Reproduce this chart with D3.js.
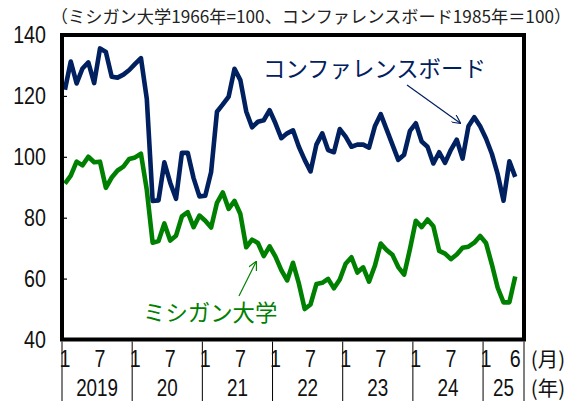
<!DOCTYPE html>
<html>
<head>
<meta charset="utf-8">
<script src="https://cdn.jsdelivr.net/npm/d3@7"></script>
<style>
  body { margin: 0; background: #fff; }
  svg { display: block; }
  text { font-family: "Liberation Sans Narrow", "Liberation Sans", "Noto Sans CJK JP", sans-serif; }
  .jp { font-family: "Noto Sans CJK JP", sans-serif; }
</style>
</head>
<body>
<svg class="chart"></svg>
<script>
// monthly, Jan 2019 - Jun 2025
var years = ["2019", "20", "21", "22", "23", "24", "25"];
var monthTicks = [1, 7];

var confBoard = [
  122, 131.3, 124.1, 129, 131, 124.2, 135.6, 134.4, 126.3, 126, 127, 128.5,
  130.5, 132.4, 119, 85.5, 85.7, 98.2, 91.5, 86.2, 101.3, 101.3, 93, 87,
  87.2, 95, 114.8, 117.2, 119.8, 128.9, 125.2, 114.9, 109.7, 111.5, 112, 115.3,
  111, 106.1, 107.7, 108.7, 103.3, 99, 95.2, 104, 107.7, 102.2, 101.5, 109.1,
  106.6, 103.3, 104, 104, 103, 110, 114, 109, 104, 99, 100.7, 108.5,
  111, 105, 103.3, 97.8, 101.5, 98, 102.3, 105.6, 99.4, 110, 113, 110,
  106, 101, 94.3, 85.6, 98.5, 93.4
];

var michigan = [
  91.2, 93.8, 98.4, 97.2, 100, 98.2, 98.4, 89.8, 93.2, 95.5, 96.8, 99.3,
  99.8, 101, 89.1, 71.8, 72.3, 78.1, 72.5, 74.1, 80.4, 81.8, 76.9, 80.7,
  79, 76.8, 84.9, 88.3, 82.9, 85.5, 81.2, 70.3, 72.8, 71.7, 67.4, 70.6,
  67.2, 62.8, 59.4, 65.2, 58.4, 50, 51.5, 58.2, 58.6, 59.9, 56.8, 59.7,
  64.9, 67, 62, 63.7, 59, 64.2, 71.5, 69.4, 67.8, 63.8, 61.3, 69.7,
  79, 76.9, 79.4, 77.2, 69.1, 68.2, 66.4, 67.9, 70.1, 70.5, 71.8, 74,
  71.7, 64.7, 57, 52.2, 52.2, 60.7
];

var yTicks = [40, 60, 80, 100, 120, 140];

var drawChart = function()
{
  var width = 572, height = 401;
  var pL = 62, pR = 524, pT = 35, pB = 339.5;
  var navy = "#002060", green = "#008000";
  var squeeze = 0.82;

  var svg = d3.select(".chart")
    .attr("width", width)
    .attr("height", height);

  var x = d3.scaleLinear().domain([0, 79]).range([pL, pR]);
  var y = d3.scaleLinear().domain([40, 140]).range([pB, pT]);

  // narrow numbers, squeezed horizontally by the parent group
  var numText = function(sel, anchor, size) {
    return sel.append("text")
      .attr("text-anchor", anchor)
      .attr("dominant-baseline", "central")
      .attr("font-size", size)
      .attr("fill", "#111");
  };

  // title
  svg.append("text")
    .attr("class", "jp")
    .attr("x", 311)
    .attr("y", 15)
    .attr("text-anchor", "middle")
    .attr("dominant-baseline", "central")
    .attr("font-size", "17.2px")
    .attr("fill", "#222")
    .text("（ミシガン大学1966年=100、コンファレンスボード1985年＝100）");

  // y axis
  var yAxis = d3.axisLeft(y)
    .tickValues(yTicks)
    .tickSize(-5)
    .tickPadding(0)
    .tickFormat(function(d) { return ""; });

  var yg = svg.append("g")
    .attr("transform", "translate(" + pL + ",0)")
    .call(yAxis);
  yg.select(".domain").remove();
  yg.selectAll("line").attr("stroke", "#000").attr("stroke-width", 1.2);

  svg.selectAll(".ylab")
    .data(yTicks)
    .enter()
    .append("g")
    .attr("transform", function(d) { return "translate(46," + y(d) + ") scale(" + squeeze + ",1)"; })
    .call(function(g) {
      numText(g, "end", "24px").text(function(d) { return d; });
    });

  // lines
  var line = d3.line()
    .x(function(d, i) { return x(i + 0.5); })
    .y(function(d) { return y(d); });

  svg.append("path")
    .datum(confBoard)
    .attr("d", line)
    .attr("fill", "none")
    .attr("stroke", navy)
    .attr("stroke-width", 4.6)
    .attr("stroke-linejoin", "round");

  svg.append("path")
    .datum(michigan)
    .attr("d", line)
    .attr("fill", "none")
    .attr("stroke", green)
    .attr("stroke-width", 4.6)
    .attr("stroke-linejoin", "round");

  // frame
  svg.append("rect")
    .attr("x", pL)
    .attr("y", pT)
    .attr("width", pR - pL)
    .attr("height", pB - pT)
    .attr("fill", "none")
    .attr("stroke", "#000")
    .attr("stroke-width", 4);

  // x axis: year separators, month and year labels
  var yearStarts = years.map(function(d, i) { return i * 12; }).concat([79]);

  svg.selectAll(".sep")
    .data(yearStarts)
    .enter()
    .append("line")
    .attr("x1", function(d) { return x(d); })
    .attr("x2", function(d) { return x(d); })
    .attr("y1", pB + 2)
    .attr("y2", height)
    .attr("stroke", "#000")
    .attr("stroke-width", 1);

  var monthLabels = [];
  years.forEach(function(yr, i) {
    monthTicks.forEach(function(m) {
      if (i * 12 + m - 1 < confBoard.length) monthLabels.push({ idx: i * 12 + m - 1, m: m });
    });
  });
  monthLabels.push({ idx: 77, m: 6 });

  svg.selectAll(".mon")
    .data(monthLabels)
    .enter()
    .append("g")
    .attr("transform", function(d) { return "translate(" + x(d.idx + 0.5) + ",359) scale(" + squeeze + ",1)"; })
    .call(function(g) {
      numText(g, "middle", "24px").text(function(d) { return d.m; });
    });

  svg.selectAll(".yr")
    .data(years)
    .enter()
    .append("g")
    .attr("transform", function(d, i) {
      var end = Math.min((i + 1) * 12, 79);
      return "translate(" + (x(i * 12) + x(end)) / 2 + ",388) scale(" + squeeze + ",1)";
    })
    .call(function(g) {
      numText(g, "middle", "23px").text(function(d) { return d; });
    });

  svg.append("text")
    .attr("class", "jp")
    .attr("x", 548)
    .attr("y", 358)
    .attr("text-anchor", "middle")
    .attr("dominant-baseline", "central")
    .attr("font-size", "20.5px")
    .attr("fill", "#111")
    .text("(月)");

  svg.append("text")
    .attr("class", "jp")
    .attr("x", 548)
    .attr("y", 386.5)
    .attr("text-anchor", "middle")
    .attr("dominant-baseline", "central")
    .attr("font-size", "20.5px")
    .attr("fill", "#111")
    .text("(年)");

  // annotations
  svg.append("defs").selectAll("marker")
    .data([["arrNavy", navy], ["arrGreen", green]])
    .enter()
    .append("marker")
    .attr("id", function(d) { return d[0]; })
    .attr("viewBox", "0 0 10 10")
    .attr("refX", 9)
    .attr("refY", 5)
    .attr("markerWidth", 9)
    .attr("markerHeight", 9)
    .attr("markerUnits", "userSpaceOnUse")
    .attr("orient", "auto")
    .append("path")
    .attr("d", "M0,0 L10,5 L0,10")
    .attr("fill", "none")
    .attr("stroke", function(d) { return d[1]; })
    .attr("stroke-width", 1.3);

  svg.append("text")
    .attr("class", "jp")
    .attr("x", 263)
    .attr("y", 67)
    .attr("dominant-baseline", "central")
    .attr("font-size", "22.4px")
    .attr("fill", navy)
    .text("コンファレンスボード");

  svg.append("line")
    .attr("x1", 407).attr("y1", 85)
    .attr("x2", 460).attr("y2", 123)
    .attr("stroke", navy)
    .attr("stroke-width", 1.2)
    .attr("marker-end", "url(#arrNavy)");

  svg.append("text")
    .attr("class", "jp")
    .attr("x", 143)
    .attr("y", 311)
    .attr("dominant-baseline", "central")
    .attr("font-size", "22.4px")
    .attr("fill", green)
    .text("ミシガン大学");

  svg.append("line")
    .attr("x1", 239).attr("y1", 296)
    .attr("x2", 256).attr("y2", 262)
    .attr("stroke", green)
    .attr("stroke-width", 1.2)
    .attr("marker-end", "url(#arrGreen)");
}

drawChart();
</script>
</body>
</html>
